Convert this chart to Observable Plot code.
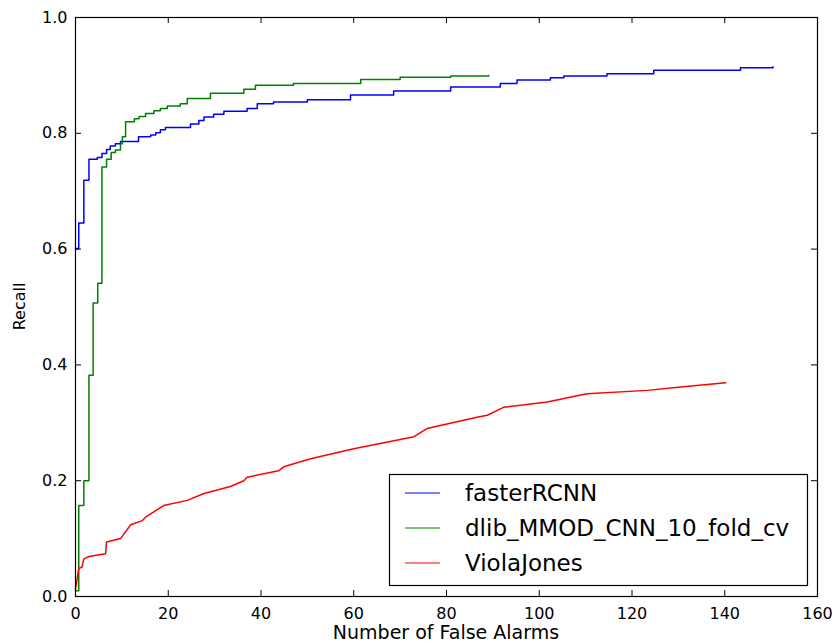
<!DOCTYPE html>
<html>
<head>
<meta charset="utf-8">
<script src="https://cdn.jsdelivr.net/npm/d3@7"></script>
<script src="https://cdn.jsdelivr.net/npm/@observablehq/plot@0.6"></script>
<style>
  html, body { margin: 0; padding: 0; background: #fff; }
  #chart { width: 837px; height: 644px; overflow: hidden; }
</style>
</head>
<body>
<div id="chart"></div>
<script>
// ---- data ----
const seriesNames = ["fasterRCNN", "dlib_MMOD_CNN_10_fold_cv", "ViolaJones"];
const seriesColors = ["#0000ff", "#008000", "#ff0000"];

const fasterX = [0, 0.7, 1.8, 2.9, 4.7, 5.7, 6.7, 7.5, 8.6, 9.7, 13.6, 16.2, 17.3, 18.3, 19.4, 24.8, 26.6, 27.7, 29.8, 32, 37, 39.2, 42.7, 50, 59.3, 68.6, 80.9, 91.6, 95.2, 102.4, 105.3, 114.6, 124.7, 143.4, 150.4];
const fasterY = [0.601, 0.645, 0.719, 0.755, 0.758, 0.765, 0.772, 0.778, 0.782, 0.786, 0.794, 0.797, 0.801, 0.806, 0.810, 0.816, 0.822, 0.828, 0.833, 0.838, 0.843, 0.851, 0.854, 0.858, 0.866, 0.873, 0.880, 0.886, 0.892, 0.896, 0.899, 0.903, 0.909, 0.913, 0.915];

const dlibX = [0, 0.7, 1.8, 2.9, 3.8, 4.8, 5.7, 6.7, 7.7, 8.6, 9.7, 10.1, 10.8, 12.7, 13.7, 15.1, 16.9, 18.3, 19.8, 22.6, 24.1, 29.1, 36.3, 38.8, 47, 61.5, 70, 80.9, 89.1];
const dlibY = [0.01, 0.157, 0.2, 0.382, 0.507, 0.541, 0.742, 0.755, 0.767, 0.771, 0.782, 0.794, 0.82, 0.825, 0.829, 0.834, 0.839, 0.843, 0.847, 0.851, 0.86, 0.869, 0.876, 0.883, 0.886, 0.893, 0.897, 0.899, 0.900];

const violaX = [0, 0.7, 1.4, 1.8, 2.9, 6.5, 6.7, 9.7, 11.9, 14.4, 15.1, 19, 24.1, 27.7, 33.4, 36.3, 37, 43.8, 44.9, 50.7, 60, 73, 75.8, 86.3, 88.8, 92.4, 101.7, 110.3, 123.3, 130.5, 140.2];
const violaY = [0.013, 0.048, 0.051, 0.065, 0.069, 0.074, 0.094, 0.1, 0.124, 0.131, 0.137, 0.157, 0.166, 0.178, 0.19, 0.2, 0.206, 0.217, 0.224, 0.238, 0.255, 0.276, 0.29, 0.309, 0.313, 0.327, 0.336, 0.350, 0.356, 0.362, 0.369];

const xTicks = [0, 20, 40, 60, 80, 100, 120, 140, 160];
const yTicks = [0.0, 0.2, 0.4, 0.6, 0.8, 1.0];
const xLabel = "Number of False Alarms";
const yLabel = "Recall";

// ---- build tables ----
const zip = (xs, ys) => xs.map((x, i) => ({x, y: ys[i]}));
const faster = zip(fasterX, fasterY);
const dlib = zip(dlibX, dlibY);
const viola = zip(violaX, violaY);

const W = 837, H = 644;
const mL = 75, mR = 20, mT = 17, mB = 48;
const font = "DejaVu Sans, Liberation Sans, sans-serif";
const tickLenPx = 6;
const tx = tickLenPx / (W - mL - mR) * 160;
const ty = tickLenPx / (H - mT - mB);

const plot = Plot.plot({
  width: W,
  height: H,
  marginLeft: mL,
  marginRight: mR,
  marginTop: mT,
  marginBottom: mB,
  style: {fontFamily: font, background: "#fff", color: "#000"},
  x: {domain: [0, 160]},
  y: {domain: [0, 1]},
  marks: [
    Plot.line(faster, {x: "x", y: "y", curve: "step-after", stroke: seriesColors[0], strokeWidth: 1.5}),
    Plot.line(dlib, {x: "x", y: "y", curve: "step-after", stroke: seriesColors[1], strokeWidth: 1.5}),
    Plot.line(viola, {x: "x", y: "y", curve: "linear", stroke: seriesColors[2], strokeWidth: 1.5}),
    // inward ticks on all four sides
    Plot.ruleX(xTicks, {x: d => d, y1: 0, y2: ty, stroke: "#000", strokeWidth: 1}),
    Plot.ruleX(xTicks, {x: d => d, y1: 1 - ty, y2: 1, stroke: "#000", strokeWidth: 1}),
    Plot.ruleY(yTicks, {y: d => d, x1: 0, x2: tx, stroke: "#000", strokeWidth: 1}),
    Plot.ruleY(yTicks, {y: d => d, x1: 160 - tx, x2: 160, stroke: "#000", strokeWidth: 1}),
    Plot.axisX(xTicks, {tickSize: 0, tickPadding: 11, fontSize: 16, label: null, tickFormat: d => String(d)}),
    Plot.axisY(yTicks, {tickSize: 0, tickPadding: 8, fontSize: 16, label: null, tickFormat: d3.format(".1f")}),
    Plot.frame({stroke: "#000", strokeWidth: 1.2})
  ]
});

document.getElementById("chart").appendChild(plot);

// ---- axis labels and legend ----
const svg = d3.select(plot);
svg.append("text")
  .attr("x", 446)
  .attr("y", 639)
  .attr("text-anchor", "middle")
  .attr("font-family", font)
  .attr("font-size", 19)
  .attr("fill", "#000")
  .text(xLabel);
svg.append("text")
  .attr("transform", `translate(25,${mT + (H - mT - mB) / 2}) rotate(-90)`)
  .attr("text-anchor", "middle")
  .attr("font-family", font)
  .attr("font-size", 16)
  .attr("fill", "#000")
  .text(yLabel);

const lg = svg.append("g").attr("text-anchor", "start");
lg.append("rect")
  .attr("x", 389.5).attr("y", 474.5)
  .attr("width", 418).attr("height", 111)
  .attr("fill", "#fff").attr("stroke", "#000").attr("stroke-width", 1.2);
seriesNames.forEach((name, i) => {
  const cy = 493 + i * 35;
  lg.append("line")
    .attr("x1", 405).attr("x2", 440)
    .attr("y1", cy).attr("y2", cy)
    .attr("stroke", seriesColors[i]).attr("stroke-opacity", 0.5).attr("stroke-width", 1.8);
  lg.append("text")
    .attr("x", 465).attr("y", cy)
    .attr("dy", "0.36em")
    .attr("text-anchor", "start")
    .attr("font-family", font)
    .attr("font-size", 23)
    .attr("fill", "#000")
    .text(name);
});
</script>
</body>
</html>
